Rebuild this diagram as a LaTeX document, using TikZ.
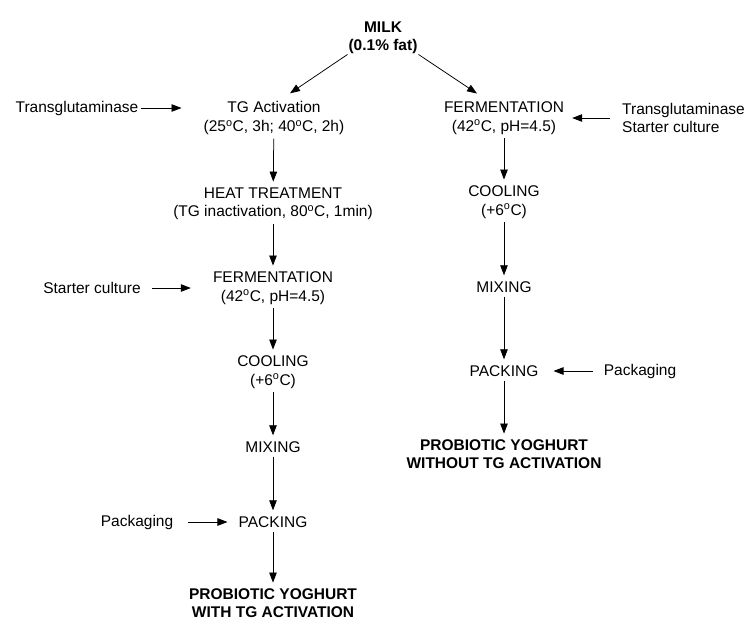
\documentclass[tikz,border=0pt]{standalone}
\usepackage{fontspec}
\usepackage{tikz}
\usetikzlibrary{arrows.meta}
\newfontfamily\arialfont{Liberation Sans}
\newcommand{\degC}{\textsuperscript{o}C}

\begin{document}
\begin{tikzpicture}[x=1pt, y=-1pt,
  txt/.style={font=\arialfont\fontsize{15.5}{18.5}\selectfont, align=center, inner sep=0pt},
  btxt/.style={txt, font=\arialfont\bfseries\fontsize{15.5}{17.5}\selectfont},
  arr/.style={-{Triangle[length=10pt, width=7.5pt]}, line width=0.75pt, shorten <=4pt, shorten >=6pt}]
  \useasboundingbox (0,0) rectangle (748,619);
  % source
  \node[btxt] (milk) at (383,38) {MILK\\(0.1\% fat)};
  % left branch: with TG activation
  \node[txt] (tgact) at (274,118) {TG Activation\\(25\degC, 3h; 40\degC, 2h)};
  \node[txt] (heat) at (273,204) {HEAT TREATMENT\\(TG inactivation, 80\degC, 1min)};
  \node[txt] (fermL) at (273,288) {FERMENTATION\\(42\degC, pH=4.5)};
  \node[txt] (coolL) at (273,372) {COOLING\\(+6\degC)};
  \node[txt] (mixL) at (273,447) {MIXING};
  \node[txt] (packL) at (273,522) {PACKING};
  \node[btxt] (prodL) at (273,603) {PROBIOTIC YOGHURT\\WITH TG ACTIVATION};
  \node[txt] (tgin) at (77,108) {Transglutaminase};
  \node[txt] (starterL) at (92,288) {Starter culture};
  \node[txt] (packagL) at (137,522) {Packaging};
  % right branch: without TG activation
  \node[txt] (fermR) at (504,118) {FERMENTATION\\(42\degC, pH=4.5)};
  \node[txt] (coolR) at (504,202) {COOLING\\(+6\degC)};
  \node[txt] (mixR) at (504,287) {MIXING};
  \node[txt] (packR) at (504,371) {PACKING};
  \node[btxt] (prodR) at (504,454) {PROBIOTIC YOGHURT\\WITHOUT TG ACTIVATION};
  \node[txt, align=left, anchor=west] (inR) at (622,118) {Transglutaminase\\Starter culture};
  \node[txt] (packagR) at (640,371) {Packaging};
  % flow
  \draw[arr, shorten <=1pt, shorten >=0pt] (milk.south west) -- ([xshift=16pt, yshift=8pt]tgact.north);
  \draw[arr, shorten <=1pt, shorten >=0pt] (milk.south east) -- ([xshift=-27pt, yshift=8pt]fermR.north);
  \foreach \a/\b in {tgact/heat, heat/fermL, fermL/coolL, coolL/mixL, mixL/packL, packL/prodL,
                     fermR/coolR, coolR/mixR, mixR/packR, packR/prodR}
    \draw[arr] (\a) -- (\b);
  % inputs
  \draw[arr, shorten <=2pt, shorten >=22pt] (tgin.east) -- (tgin.east -| tgact.west);
  \draw[arr, shorten <=11pt, shorten >=22pt] (starterL.east) -- (starterL.east -| fermL.west);
  \draw[arr, shorten <=15pt, shorten >=11pt] (packagL.east) -- (packagL.east -| packL.west);
  \draw[arr, shorten <=12pt, shorten >=8pt] (inR.west) -- (inR.west -| fermR.east);
  \draw[arr, shorten <=11pt, shorten >=15pt] (packagR.west) -- (packagR.west -| packR.east);
\end{tikzpicture}
\end{document}
